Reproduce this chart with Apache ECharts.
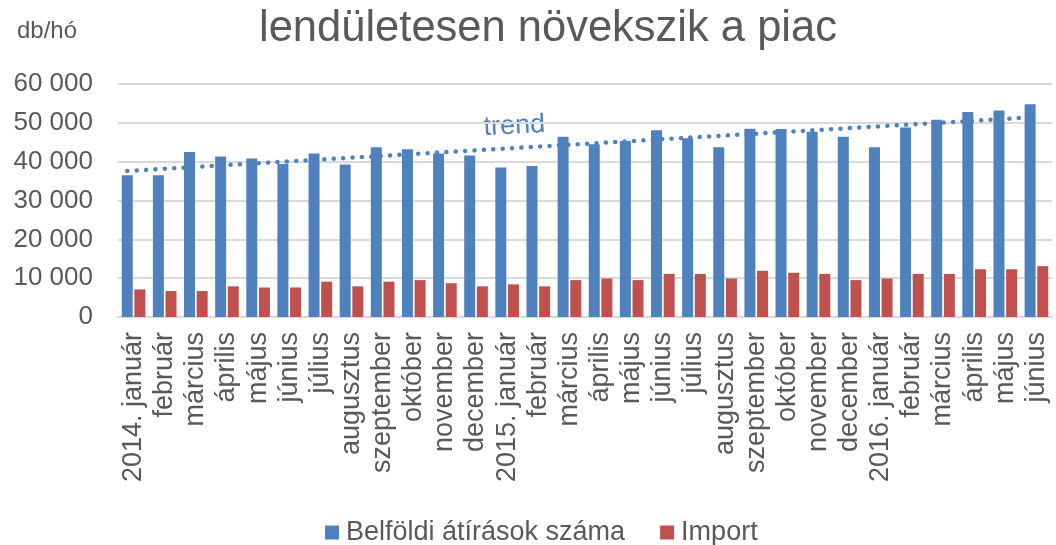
<!DOCTYPE html>
<html lang="hu">

<head>
    <meta charset="UTF-8">
    <title>lendületesen növekszik a piac</title>
    <style>
        html, body { margin: 0; padding: 0; background: #fff; }
        #main { width: 1056px; height: 545px; }
    </style>
</head>

<body>
    <div id="main"></div>
</body>

</html>
<script src="https://cdn.jsdelivr.net/npm/echarts@6/dist/echarts.min.js"></script>
<script>
    // havi kategóriák
    var months = ['2014. január', 'február', 'március', 'április', 'május', 'június', 'július', 'augusztus',
        'szeptember', 'október', 'november', 'december', '2015. január', 'február', 'március', 'április',
        'május', 'június', 'július', 'augusztus', 'szeptember', 'október', 'november', 'december',
        '2016. január', 'február', 'március', 'április', 'május', 'június'];
    // belföldi átírások (db/hó)
    var belfoldi = [36500, 36500, 42500, 41300, 40800, 39400, 42100, 39300, 43700, 43200, 42100, 41600,
        38500, 38900, 46400, 44500, 45300, 48100, 46000, 43700, 48500, 48400, 47700, 46400,
        43700, 48800, 50800, 52800, 53200, 54800];
    // import (db/hó)
    var importDb = [7100, 6700, 6700, 7900, 7600, 7600, 9100, 7900, 9100, 9500, 8700, 7900,
        8400, 7900, 9500, 9900, 9500, 11100, 11100, 9900, 11900, 11400, 11100, 9500,
        9900, 11100, 11100, 12300, 12300, 13100];
    // trendvonal két vége, leolvasva
    var trendStart = 37600;
    var trendEnd = 51400;
    var yTicks = { min: 0, max: 60000, interval: 10000 };

    var font = 'Liberation Sans, Arial, sans-serif';
    var grey = '#595959';

    var mainChart = echarts.init(document.getElementById('main'));

    var option = {
        animation: false,
        textStyle: { fontFamily: font },
        title: [{
            text: 'lendületesen növekszik a piac',
            left: 254,
            top: 2,
            textStyle: { fontSize: 43.5, fontWeight: 'normal', color: grey, fontFamily: font }
        }, {
            text: 'db/hó',
            left: 12,
            top: 14,
            textStyle: { fontSize: 24, fontWeight: 'normal', color: grey, fontFamily: font }
        }],
        legend: {
            top: 519,
            left: 325,
            padding: 0,
            icon: 'rect',
            itemWidth: 14,
            itemHeight: 14,
            itemGap: 35,
            textStyle: { fontSize: 27, color: grey, fontFamily: font, padding: [0, 0, 0, 2] },
            data: ['Belföldi átírások száma', 'Import']
        },
        grid: {
            left: 118,
            right: 4,
            top: 84,
            bottom: 228,
            outerBoundsMode: 'none'
        },
        xAxis: {
            type: 'category',
            data: months,
            axisTick: { show: false },
            axisLine: { lineStyle: { color: '#D9D9D9', width: 2 } },
            axisLabel: {
                interval: 0,
                rotate: 90,
                margin: 15,
                fontSize: 27,
                color: grey,
                fontFamily: font
            }
        },
        yAxis: {
            type: 'value',
            min: yTicks.min,
            max: yTicks.max,
            interval: yTicks.interval,
            axisLine: { show: false },
            axisTick: { show: false },
            splitLine: { lineStyle: { color: '#D9D9D9', width: 2 } },
            axisLabel: {
                margin: 25,
                fontSize: 26,
                color: grey,
                fontFamily: font,
                formatter: function (v) {
                    return String(v).replace(/\B(?=(\d{3})+(?!\d))/g, ' ');
                }
            }
        },
        graphic: [{
            type: 'text',
            left: 483,
            top: 111,
            rotation: 0.05,
            style: {
                text: 'trend',
                fill: '#4F81BD',
                font: '27px ' + font
            }
        }],
        series: [{
            name: 'Belföldi átírások száma',
            type: 'bar',
            data: belfoldi,
            barWidth: 11,
            barGap: '15%',
            itemStyle: { color: '#4F81BD' },
            markLine: {
                silent: true,
                symbol: 'none',
                label: { show: false },
                lineStyle: { color: '#4F81BD', width: 4.5, type: [0.1, 9.3], cap: 'round' },
                data: [[
                    { coord: [0, trendStart] },
                    { coord: [months.length - 1, trendEnd] }
                ]]
            }
        }, {
            name: 'Import',
            type: 'bar',
            data: importDb,
            barWidth: 11,
            itemStyle: { color: '#C0504D' }
        }]
    };

    mainChart.setOption(option);
</script>
